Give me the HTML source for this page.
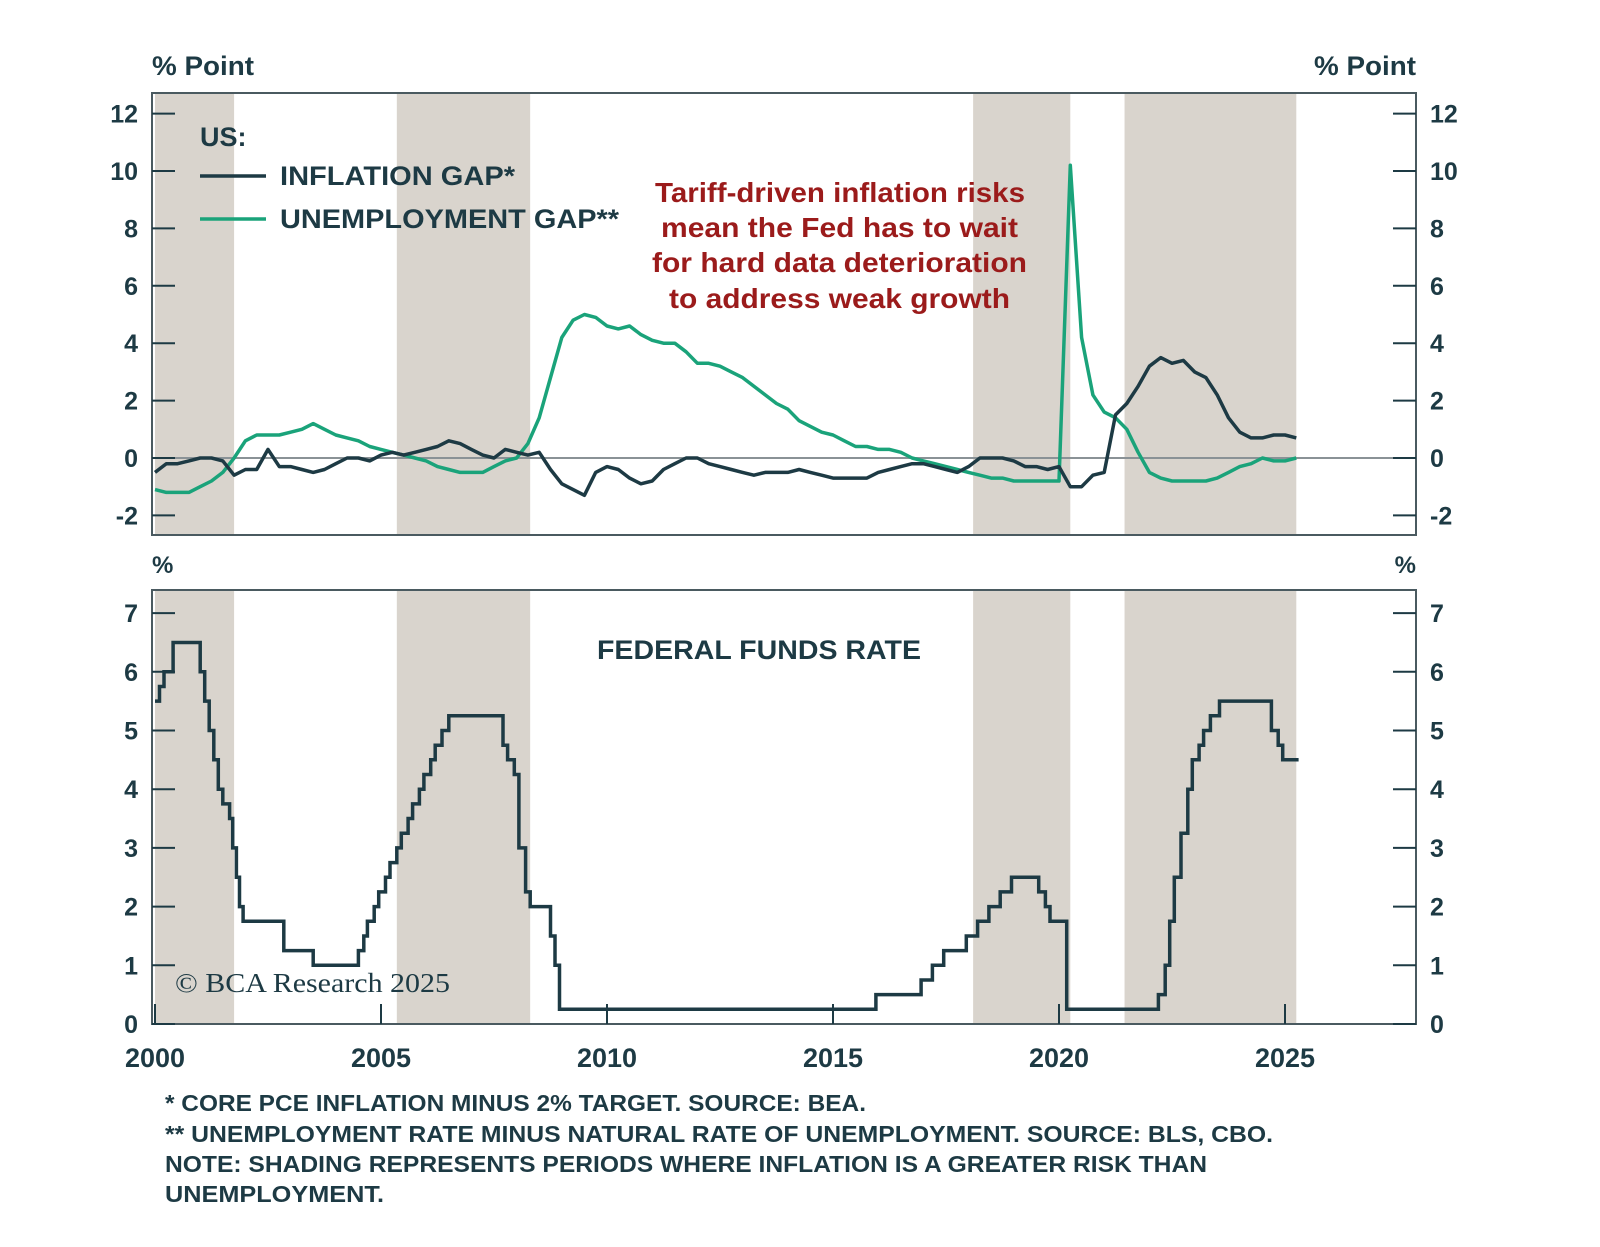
<!DOCTYPE html>
<html><head><meta charset="utf-8"><style>
body{margin:0;background:#fff;}
svg{display:block;font-family:"Liberation Sans",sans-serif;}
</style></head><body>
<svg id="chart" width="1600" height="1247" viewBox="0 0 1600 1247" xmlns="http://www.w3.org/2000/svg">
<g id="shadeTop"></g>
<g id="shadeBot"></g>
<g id="axes"></g>
<g id="series"></g>
<text x="152" y="75" font-size="27" font-weight="bold" fill="#1d3a44" textLength="102" lengthAdjust="spacingAndGlyphs">% Point</text>
<text x="1314" y="75" font-size="27" font-weight="bold" fill="#1d3a44" textLength="102" lengthAdjust="spacingAndGlyphs">% Point</text>
<text x="152" y="573" font-size="24" font-weight="bold" fill="#1d3a44">%</text>
<text x="1416" y="573" font-size="24" font-weight="bold" fill="#1d3a44" text-anchor="end">%</text>
<g font-size="27" font-weight="bold" fill="#1d3a44">
<text x="200" y="146">US:</text>
<line x1="200" y1="176" x2="266" y2="176" stroke="#1d3a44" stroke-width="3.5"/>
<text x="280" y="185" textLength="235" lengthAdjust="spacingAndGlyphs">INFLATION GAP*</text>
<line x1="200" y1="219" x2="266" y2="219" stroke="#1aa37a" stroke-width="3.5"/>
<text x="280" y="228" textLength="339" lengthAdjust="spacingAndGlyphs">UNEMPLOYMENT GAP**</text>
</g>
<g font-size="28" font-weight="bold" fill="#9b1b1b" lengthAdjust="spacingAndGlyphs">
<text x="655" y="202" textLength="370" lengthAdjust="spacingAndGlyphs">Tariff-driven inflation risks</text>
<text x="661" y="237" textLength="357" lengthAdjust="spacingAndGlyphs">mean the Fed has to wait</text>
<text x="652" y="272" textLength="375" lengthAdjust="spacingAndGlyphs">for hard data deterioration</text>
<text x="669" y="308" textLength="341" lengthAdjust="spacingAndGlyphs">to address weak growth</text>
</g>
<text x="597" y="659" font-size="27" font-weight="bold" fill="#1d3a44" textLength="324" lengthAdjust="spacingAndGlyphs">FEDERAL FUNDS RATE</text>
<text x="175" y="992" font-size="27" fill="#1d3a44" font-family="Liberation Serif,serif" textLength="275" lengthAdjust="spacingAndGlyphs">© BCA Research 2025</text>
<g font-size="23" fill="#1d3a44" font-weight="bold">
<text x="165" y="1111" textLength="701" lengthAdjust="spacingAndGlyphs">* CORE PCE INFLATION MINUS 2% TARGET. SOURCE: BEA.</text>
<text x="165" y="1142" textLength="1108" lengthAdjust="spacingAndGlyphs">** UNEMPLOYMENT RATE MINUS NATURAL RATE OF UNEMPLOYMENT. SOURCE: BLS, CBO.</text>
<text x="165" y="1172" textLength="1042" lengthAdjust="spacingAndGlyphs">NOTE: SHADING REPRESENTS PERIODS WHERE INFLATION IS A GREATER RISK THAN</text>
<text x="165" y="1202" textLength="219" lengthAdjust="spacingAndGlyphs">UNEMPLOYMENT.</text>
</g>
</svg>
<script>
const shadePeriods=[[2000,2001.75],[2005.35,2008.3],[2018.1,2020.25],[2021.45,2025.25]];
const topTicks=[12,10,8,6,4,2,0,-2];
const botTicks=[7,6,5,4,3,2,1,0];
const xTicks=[2000,2005,2010,2015,2020,2025];
const gapStart=2000;
const inflationGap=[-0.5,-0.2,-0.2,-0.1, 0.0,0.0,-0.1,-0.6, -0.4,-0.4,0.3,-0.3, -0.3,-0.4,-0.5,-0.4, -0.2,0.0,0.0,-0.1, 0.1,0.2,0.1,0.2, 0.3,0.4,0.6,0.5, 0.3,0.1,0.0,0.3, 0.2,0.1,0.2,-0.4, -0.9,-1.1,-1.3,-0.5, -0.3,-0.4,-0.7,-0.9, -0.8,-0.4,-0.2,0.0, 0.0,-0.2,-0.3,-0.4, -0.5,-0.6,-0.5,-0.5, -0.5,-0.4,-0.5,-0.6, -0.7,-0.7,-0.7,-0.7, -0.5,-0.4,-0.3,-0.2, -0.2,-0.3,-0.4,-0.5, -0.3,0.0,0.0,0.0, -0.1,-0.3,-0.3,-0.4, -0.3,-1.0,-1.0,-0.6, -0.5,1.5,1.9,2.5, 3.2,3.5,3.3,3.4, 3.0,2.8,2.2,1.4, 0.9,0.7,0.7,0.8, 0.8,0.7];
const unemploymentGap=[-1.1,-1.2,-1.2,-1.2, -1.0,-0.8,-0.5,0.0, 0.6,0.8,0.8,0.8, 0.9,1.0,1.2,1.0, 0.8,0.7,0.6,0.4, 0.3,0.2,0.1,0.0, -0.1,-0.3,-0.4,-0.5, -0.5,-0.5,-0.3,-0.1, 0.0,0.5,1.4,2.8, 4.2,4.8,5.0,4.9, 4.6,4.5,4.6,4.3, 4.1,4.0,4.0,3.7, 3.3,3.3,3.2,3.0, 2.8,2.5,2.2,1.9, 1.7,1.3,1.1,0.9, 0.8,0.6,0.4,0.4, 0.3,0.3,0.2,0.0, -0.1,-0.2,-0.3,-0.4, -0.5,-0.6,-0.7,-0.7, -0.8,-0.8,-0.8,-0.8, -0.8,10.2,4.2,2.2, 1.6,1.4,1.0,0.2, -0.5,-0.7,-0.8,-0.8, -0.8,-0.8,-0.7,-0.5, -0.3,-0.2,0.0,-0.1, -0.1,0.0];
const ffrDates=[2000,2000.1,2000.2,2000.4,2001.0,2001.1,2001.2,2001.3,2001.4,2001.5,2001.65,2001.72,2001.8,2001.87,2001.95,2002.85,2003.5,2004.5,2004.62,2004.7,2004.85,2004.95,2005.1,2005.2,2005.35,2005.45,2005.6,2005.7,2005.85,2005.95,2006.1,2006.2,2006.35,2006.5,2007.7,2007.8,2007.95,2008.05,2008.2,2008.3,2008.75,2008.85,2008.95,2015.95,2016.95,2017.2,2017.45,2017.95,2018.2,2018.45,2018.7,2018.95,2019.55,2019.7,2019.8,2020.17,2022.2,2022.35,2022.45,2022.55,2022.7,2022.85,2022.95,2023.1,2023.2,2023.35,2023.55,2024.7,2024.85,2024.95];
const ffrValues=[5.5,5.75,6.0,6.5,6.0,5.5,5.0,4.5,4.0,3.75,3.5,3.0,2.5,2.0,1.75,1.25,1.0,1.25,1.5,1.75,2.0,2.25,2.5,2.75,3.0,3.25,3.5,3.75,4.0,4.25,4.5,4.75,5.0,5.25,4.75,4.5,4.25,3.0,2.25,2.0,1.5,1.0,0.25,0.5,0.75,1.0,1.25,1.5,1.75,2.0,2.25,2.5,2.25,2.0,1.75,0.25,0.5,1.0,1.75,2.5,3.25,4.0,4.5,4.75,5.0,5.25,5.5,5.0,4.75,4.5];
const ffrEnd=2025.3;

const NS="http://www.w3.org/2000/svg";
const L=152,R=1416,TT=93,TB=535,BT=590,BB=1024;
const xs=y=>155+(y-2000)*45.2;
const yTop=v=>458-v*28.7;
const yBot=v=>1024-v*58.7;
const C="#1d3a44";
function mk(tag,parent,attrs){const e=document.createElementNS(NS,tag);for(const k in attrs)e.setAttribute(k,attrs[k]);document.getElementById(parent).appendChild(e);return e;}

shadePeriods.forEach(p=>{
  const a=mk('rect','shadeTop',{x:xs(p[0]),y:TT,width:xs(p[1])-xs(p[0]),height:TB-TT,fill:"#d9d4cd"});
  
  
  const b=mk('rect','shadeBot',{x:xs(p[0]),y:BT,width:xs(p[1])-xs(p[0]),height:BB-BT,fill:"#d9d4cd"});
  
  
});
mk('line','axes',{x1:L,x2:R,y1:yTop(0),y2:yTop(0),stroke:"#8a9296","stroke-width":2});
[[TT,TB],[BT,BB]].forEach(([t,b])=>{
  const r=mk('rect','axes',{x:L,y:t,width:R-L,height:b-t,fill:"none",stroke:"#4a5a60","stroke-width":2});
  
  
});
topTicks.forEach(v=>{
  const y=yTop(v);
  mk('line','axes',{x1:L,x2:L+23,y1:y,y2:y,stroke:C,"stroke-width":2});
  mk('line','axes',{x1:R-23,x2:R,y1:y,y2:y,stroke:C,"stroke-width":2});
  const t=mk('text','axes',{x:138,y:y+9,"font-size":25,"font-weight":"bold",fill:C,"text-anchor":"end"});t.textContent=v;
  
  const t2=mk('text','axes',{x:1430,y:y+9,"font-size":25,"font-weight":"bold",fill:C});t2.textContent=v;
  
});
botTicks.forEach(v=>{
  const y=yBot(v);
  mk('line','axes',{x1:L,x2:L+23,y1:y,y2:y,stroke:C,"stroke-width":2});
  mk('line','axes',{x1:R-23,x2:R,y1:y,y2:y,stroke:C,"stroke-width":2});
  const t=mk('text','axes',{x:138,y:y+9,"font-size":25,"font-weight":"bold",fill:C,"text-anchor":"end"});t.textContent=v;
  
  const t2=mk('text','axes',{x:1430,y:y+9,"font-size":25,"font-weight":"bold",fill:C});t2.textContent=v;
  
});
xTicks.forEach(v=>{
  const x=xs(v);
  mk('line','axes',{x1:x,x2:x,y1:BB-20,y2:BB,stroke:C,"stroke-width":2});
  const t=mk('text','axes',{x:x,y:1067,"font-size":27,"font-weight":"bold",fill:C,"text-anchor":"middle"});t.textContent=v;
  
});
function line(vals,color,name){
  const d=vals.map((v,i)=>(i?'L':'M')+xs(gapStart+i*0.25).toFixed(1)+','+yTop(v).toFixed(1)).join('');
  const p=mk('path','series',{d:d,fill:"none",stroke:color,"stroke-width":3.5,"stroke-linejoin":"round"});
  
  
}
line(unemploymentGap,"#1aa37a","unemployment-gap-line");
line(inflationGap,C,"inflation-gap-line");
let d='M'+xs(ffrDates[0])+','+yBot(ffrValues[0]);
for(let i=1;i<ffrDates.length;i++){d+='H'+xs(ffrDates[i]).toFixed(1)+'V'+yBot(ffrValues[i]).toFixed(1);}
d+='H'+xs(ffrEnd).toFixed(1);
const f=mk('path','series',{d:d,fill:"none",stroke:C,"stroke-width":3.5});


</script>
</body></html>
